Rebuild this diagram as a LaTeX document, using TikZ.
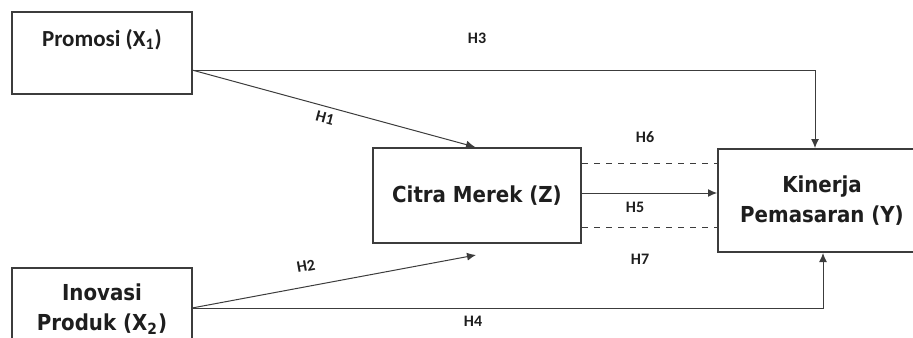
\documentclass[tikz,border=0pt]{standalone}
\usepackage{fontspec}
\setmainfont{DejaVu Sans Condensed}
\newfontfamily\calfont{Carlito}
\usetikzlibrary{arrows.meta,calc}
\definecolor{GrisLinea}{RGB}{60,60,60}
\definecolor{GrisTexto}{RGB}{30,30,30}

\begin{document}
\begin{tikzpicture}[x=0.5pt,y=-0.5pt,>={Latex[length=4.5pt,width=4pt]},
  caja/.style={draw=GrisLinea,line width=1pt,fill=white,text=GrisTexto,align=center,
    font=\bfseries\fontsize{11}{15}\selectfont},
  enlace/.style={draw=GrisLinea,line width=0.5pt},
  hipo/.style={text=GrisTexto,font=\calfont\bfseries\fontsize{8}{9}\selectfont}]
  \useasboundingbox (0,0) rectangle (913,337);
  \clip (0,0) rectangle (913,337);
  \node[caja,minimum width=90pt,minimum height=41pt,
    label={[text=GrisTexto,font=\calfont\bfseries\fontsize{11.5}{13}\selectfont,anchor=north,yshift=-5.5pt]north:Promosi (X\textsubscript{1})}]
    (promosi) at (102,53) {};
  \node[caja,minimum width=90pt,minimum height=41pt] (inovasi) at (102,309) {Inovasi\\Produk (X\textsubscript{2})};
  \node[caja,minimum width=104pt,minimum height=47.5pt] (citra) at (477,195.5) {Citra Merek (Z)};
  \node[caja,minimum width=104pt,minimum height=51.5pt] (kinerja) at (822,200.5) {Kinerja\\Pemasaran (Y)};
  \coordinate (salidaP) at (192,70);
  \coordinate (salidaI) at (192,308);
  \coordinate (llegadaH2) at (476,255);
  \draw[enlace,->] (salidaP) -| ([xshift=-3.5pt]kinerja.north);
  \draw[enlace,->] (salidaP) -- ([xshift=-1pt]citra.north);
  \draw[enlace,->] (salidaI) -- (llegadaH2);
  \draw[enlace,->] (salidaI) -| ([xshift=0.5pt]kinerja.south);
  \draw[enlace,->] ([yshift=1.25pt]citra.east) -- ([yshift=1.25pt]citra.east -| kinerja.west);
  \draw[enlace,dashed] ([yshift=16pt]citra.east) -- ([yshift=16pt]citra.east -| kinerja.west);
  \draw[enlace,dashed] ([yshift=-16pt]citra.east) -- ([yshift=-16pt]citra.east -| kinerja.west);
  \node[hipo] (h3) at (477,38) {H3};
  \node[hipo,rotate=-15] (h1) at (325,118) {H1};
  \node[hipo,rotate=10] (h2) at (306,266) {H2};
  \node[hipo] (h4) at (473,321) {H4};
  \node[hipo] (h5) at (635,207) {H5};
  \node[hipo] (h6) at (645,137) {H6};
  \node[hipo] (h7) at (640,259) {H7};
\end{tikzpicture}
\end{document}
